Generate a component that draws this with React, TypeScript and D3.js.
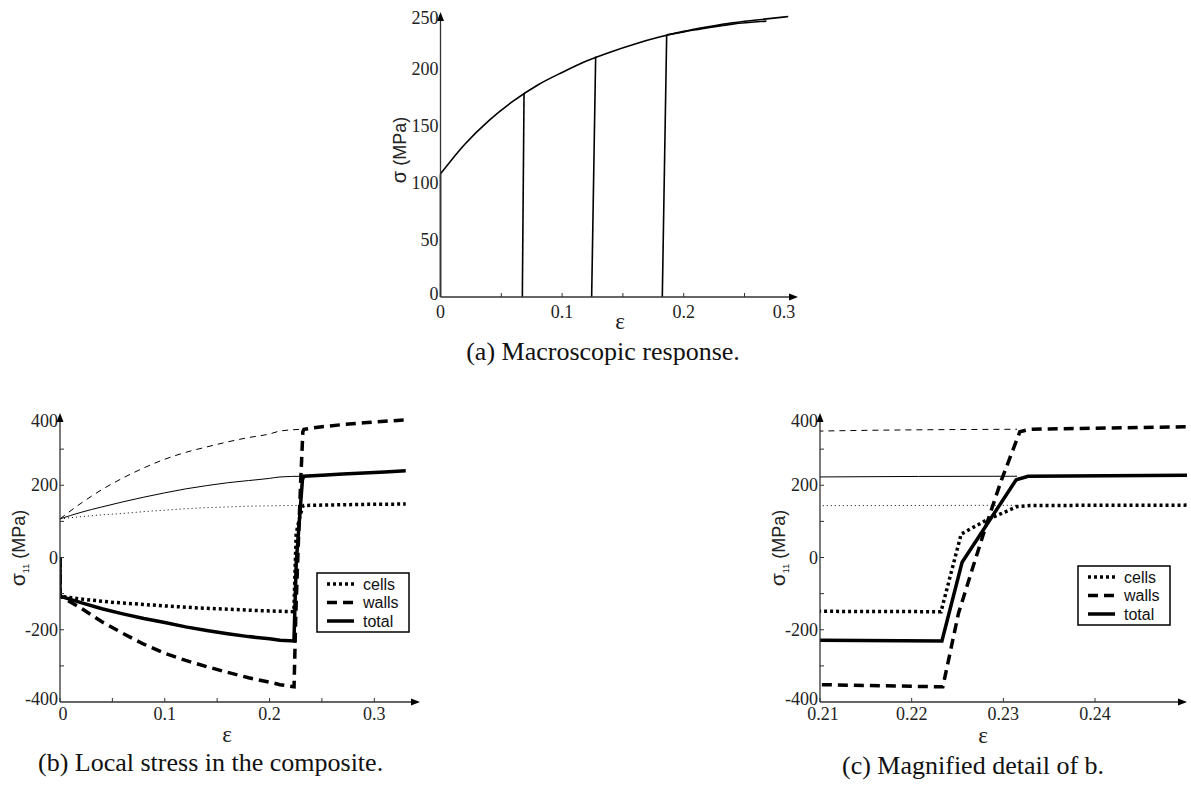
import React from "react";
import * as d3 from "d3";

// (a) macroscopic response
const aEps = [0, 0.02, 0.04, 0.06, 0.08, 0.1, 0.12, 0.14, 0.16, 0.18, 0.2, 0.22, 0.24, 0.26, 0.286];
const aSig = [108, 134, 155, 172, 186, 197, 207, 215, 222, 228, 233, 237, 240.5, 243, 246];
const aReloadEps = [0.186, 0.2, 0.22, 0.24, 0.268];
const aReloadSig = [230, 232.5, 236.3, 239.4, 242];
const aUnloadBottom = [0.0673, 0.1243, 0.1824];
const aUnloadTop = [0.0687, 0.1276, 0.186];
const aUnloadSig = [179, 211, 230];
const aXTicks = [0, 0.1, 0.2, 0.3];
const aYTicks = [0, 50, 100, 150, 200, 250];

// (b),(c) local stress, reversed loading (thick)
const cellsEps = [0, 0, 0.02, 0.05, 0.08, 0.1, 0.134, 0.16, 0.19, 0.21, 0.2232, 0.2254, 0.2282, 0.2315, 0.2329, 0.25, 0.29, 0.33];
const cellsSig = [0, -107, -115, -124, -130, -134, -140, -143, -147, -149, -150, 65, 104, 141, 144, 145, 147, 148];
const wallsEps = [0, 0, 0.02, 0.04, 0.06, 0.08, 0.1, 0.12, 0.14, 0.16, 0.18, 0.2, 0.21, 0.2234, 0.2251, 0.2267, 0.2282, 0.2298, 0.2318, 0.2329, 0.24, 0.25, 0.27, 0.29, 0.31, 0.33];
const wallsSig = [0, -107, -140, -178, -210, -240, -265, -285, -302, -318, -333, -345, -352, -358, -155, -25, 95, 215, 348, 355, 358, 362, 368, 373, 377, 381];
const totalEps = [0, 0, 0.02, 0.04, 0.06, 0.08, 0.1, 0.12, 0.14, 0.16, 0.18, 0.2, 0.21, 0.2233, 0.2255, 0.2314, 0.2327, 0.25, 0.27, 0.29, 0.31, 0.33];
const totalSig = [0, -107, -125, -142, -156, -169, -180, -192, -202, -211, -219, -225, -229, -231, -13, 215, 225, 228, 231, 234, 237, 240];

// monotonic reference (thin)
const monoEps = [0, 0.02, 0.04, 0.06, 0.08, 0.1, 0.12, 0.14, 0.16, 0.18, 0.2, 0.21, 0.2315];
const monoCells = [107, 113, 118, 122, 127, 131, 135, 138, 140, 142, 143, 143.5, 144.5];
const monoWalls = [107, 150, 188, 220, 248, 272, 291, 306, 320, 332, 342, 350, 355];
const monoTotal = [107, 125, 140, 154, 167, 179, 190, 199, 207, 213, 219, 223, 225];

const bXTicks = [0, 0.1, 0.2, 0.3];
const cXTicks = [0.21, 0.22, 0.23, 0.24];
const sYTicks = [-400, -200, 0, 200, 400];
const legendNames = ["cells", "walls", "total"];

const SERIF = "'Liberation Serif', 'Times New Roman', serif";
const SANS = "'Liberation Sans', Arial, sans-serif";
const AX = "#333";

const zip = (xs: number[], ys: number[]) => xs.map((x, i) => [x, ys[i]] as [number, number]);

const styles: Record<string, { dash: string; w: number }> = {
  cells: { dash: "3,3", w: 3.5 },
  walls: { dash: "10,6", w: 3.5 },
  total: { dash: "", w: 3.5 },
};
const thin: Record<string, string> = { cells: "1,3", walls: "6,5", total: "" };

function Arrow({ x, y, dir }: { x: number; y: number; dir: "up" | "right" }) {
  const p = dir === "up"
    ? `M${x},${y} L${x - 3.5},${y + 9} L${x + 3.5},${y + 9} Z`
    : `M${x},${y} L${x - 9},${y - 3.5} L${x - 9},${y + 3.5} Z`;
  return <path d={p} fill="#000" />;
}

function StressPanel({ id, x, y, xTicks, xMinorStep, xEnd, xLabelFmt, yTitleX, legend, epsLabel }: any) {
  const line = d3.line<[number, number]>().x((d) => x(d[0])).y((d) => y(d[1]));
  const smooth = d3.line<[number, number]>().x((d) => x(d[0])).y((d) => y(d[1])).curve(d3.curveMonotoneX);
  const x0 = x.range()[0];
  const [d0, d1] = x.domain();
  const minor = d3.range(d0, d1 + 1e-9, xMinorStep).filter((v: number) => x(v) < xEnd - 8);
  const yMinor = d3.range(-300, 400, 100);
  const thick = { cells: zip(cellsEps, cellsSig), walls: zip(wallsEps, wallsSig), total: zip(totalEps, totalSig) } as any;
  const mono = { cells: zip(monoEps, monoCells), walls: zip(monoEps, monoWalls), total: zip(monoEps, monoTotal) } as any;
  return (
    <g>
      <defs>
        <clipPath id={id}>
          <rect x={x0} y={405} width={xEnd - x0} height={300} />
        </clipPath>
      </defs>
      <g clipPath={`url(#${id})`} fill="none" stroke="#000">
        {legendNames.map((k) => (
          <path key={"m" + k} d={smooth(mono[k]) || ""} strokeWidth={1} strokeDasharray={thin[k]} />
        ))}
        {legendNames.map((k) => (
          <path key={"t" + k} d={line(thick[k]) || ""} strokeWidth={styles[k].w} strokeDasharray={styles[k].dash} />
        ))}
      </g>
      {/* axes */}
      <line x1={x0} x2={xEnd - 2} y1={y(-400)} y2={y(-400)} stroke={AX} strokeWidth={1.3} />
      <line x1={x0} x2={x0} y1={y(-400)} y2={y(400) + 4} stroke={AX} strokeWidth={1.3} />
      <Arrow x={xEnd} y={y(-400)} dir="right" />
      <Arrow x={x0} y={y(400)} dir="up" />
      {minor.map((v: number) => (
        <line key={"xt" + v} x1={x(v)} x2={x(v)} y1={y(-400)} y2={y(-400) - 4} stroke={AX} />
      ))}
      {yMinor.map((v) => (
        <line key={"yt" + v} x1={x0} x2={x0 + 4} y1={y(v)} y2={y(v)} stroke={AX} />
      ))}
      {xTicks.map((v: number) => (
        <text key={"xl" + v} x={x(v) + (v === xTicks[0] ? 3 : 0)} y={y(-400) + 18} textAnchor="middle" fontFamily={SERIF} fontSize={18} fill="#222">
          {xLabelFmt(v)}
        </text>
      ))}
      {sYTicks.map((v) => (
        <text key={"yl" + v} x={x0 - 2} y={y(v) + 6 + (v === 400 ? 8 : 0) + (v === -400 ? -3 : 0)} textAnchor="end" fontFamily={SERIF} fontSize={18} fill="#222">
          {v}
        </text>
      ))}
      <text transform={`translate(${yTitleX},548) rotate(-90)`} textAnchor="middle" fontFamily={SANS} fontSize={18} fill="#222">
        <tspan fontSize={21}>σ</tspan>
        <tspan fontSize={9} dy={4}>11</tspan>
        <tspan dy={-4}> (MPa)</tspan>
      </text>
      <text x={epsLabel[0]} y={epsLabel[1]} textAnchor="middle" fontFamily={SERIF} fontSize={23} fill="#222">ε</text>
      {/* legend */}
      <rect x={legend[0]} y={legend[1]} width={92} height={59} fill="#fff" stroke="#000" strokeWidth={1.5} />
      {legendNames.map((k, i) => {
        const ly = legend[1] + 11 + i * 18.5;
        return (
          <g key={"lg" + k}>
            <line x1={legend[0] + 10} x2={legend[0] + 37} y1={ly} y2={ly} stroke="#000" strokeWidth={3.5} strokeDasharray={styles[k].dash} />
            <text x={legend[0] + 46} y={ly + 5.5} fontFamily={SANS} fontSize={16} fill="#111">{k}</text>
          </g>
        );
      })}
    </g>
  );
}

export default function App() {
  const xA = d3.scaleLinear().domain([0, 0.3]).range([440.5, 805.3]);
  const yA = d3.scaleLinear().domain([0, 250]).range([297, 12]);
  const xB = d3.scaleLinear().domain([0, 0.3]).range([60, 374.3]);
  const xC = d3.scaleLinear().domain([0.21, 0.25]).range([820, 1186.7]);
  const yS = d3.scaleLinear().domain([-400, 400]).range([702, 413]);

  const lineA = d3.line<[number, number]>().x((d) => xA(d[0])).y((d) => yA(d[1])).curve(d3.curveMonotoneX);
  const segA = d3.line<[number, number]>().x((d) => xA(d[0])).y((d) => yA(d[1]));
  const aMinor = [0.05, 0.1, 0.15, 0.2, 0.25];

  return (
    <svg width={1191} height={787} style={{ position: "absolute", left: 0, top: 0, background: "#fff" }}>
      <rect width={1191} height={787} fill="#fff" />
      {/* panel (a) */}
      <g fill="none" stroke="#000" strokeWidth={1.6}>
        <path d={lineA(zip(aEps, aSig)) || ""} />
        <path d={lineA(zip(aReloadEps, aReloadSig)) || ""} />
        <path d={segA([[0, 0], [0, aSig[0]]]) || ""} />
        {aUnloadBottom.map((b, i) => (
          <path key={"u" + i} d={segA([[b, 0], [aUnloadTop[i], aUnloadSig[i]]]) || ""} />
        ))}
      </g>
      <line x1={xA(0)} x2={796} y1={yA(0)} y2={yA(0)} stroke={AX} strokeWidth={1.3} />
      <line x1={xA(0)} x2={xA(0)} y1={yA(0)} y2={yA(250) + 4} stroke={AX} strokeWidth={1.3} />
      <Arrow x={798} y={yA(0)} dir="right" />
      <Arrow x={xA(0)} y={yA(250)} dir="up" />
      {aMinor.map((v) => (
        <line key={"at" + v} x1={xA(v)} x2={xA(v)} y1={yA(0)} y2={yA(0) - 4} stroke={AX} />
      ))}
      {aXTicks.map((v) => (
        <text key={"ax" + v} x={Math.min(xA(v), 784)} y={yA(0) + 21} textAnchor="middle" fontFamily={SERIF} fontSize={18} fill="#222">
          {v}
        </text>
      ))}
      {aYTicks.map((v) => (
        <text key={"ay" + v} x={xA(0) - 2} y={yA(v) + 6 + (v === 250 ? 6 : 0) + (v === 0 ? -3 : 0)} textAnchor="end" fontFamily={SERIF} fontSize={18} fill="#222">
          {v}
        </text>
      ))}
      <text transform="translate(406,150) rotate(-90)" textAnchor="middle" fontFamily={SANS} fontSize={18} fill="#222">
        <tspan fontSize={20}>σ</tspan> (MPa)
      </text>
      <text x={620} y={329} textAnchor="middle" fontFamily={SERIF} fontSize={23} fill="#222">ε</text>
      <text x={603} y={360} textAnchor="middle" fontFamily={SERIF} fontSize={26} fill="#111">(a) Macroscopic response.</text>

      {/* panel (b) */}
      <StressPanel id="clipB" x={xB} y={yS} xTicks={bXTicks} xMinorStep={0.05} xEnd={420} xLabelFmt={(v: number) => String(v)}
        yTitleX={25} legend={[317, 573]} epsLabel={[227, 742]} />
      <text x={38} y={771} fontFamily={SERIF} fontSize={26} fill="#111">(b) Local stress in the composite.</text>

      {/* panel (c) */}
      <StressPanel id="clipC" x={xC} y={yS} xTicks={cXTicks} xMinorStep={0.01} xEnd={1187} xLabelFmt={(v: number) => v.toFixed(2)}
        yTitleX={785} legend={[1078, 566]} epsLabel={[983, 743]} />
      <text x={842} y={774} fontFamily={SERIF} fontSize={26} fill="#111">(c) Magnified detail of b.</text>
    </svg>
  );
}
